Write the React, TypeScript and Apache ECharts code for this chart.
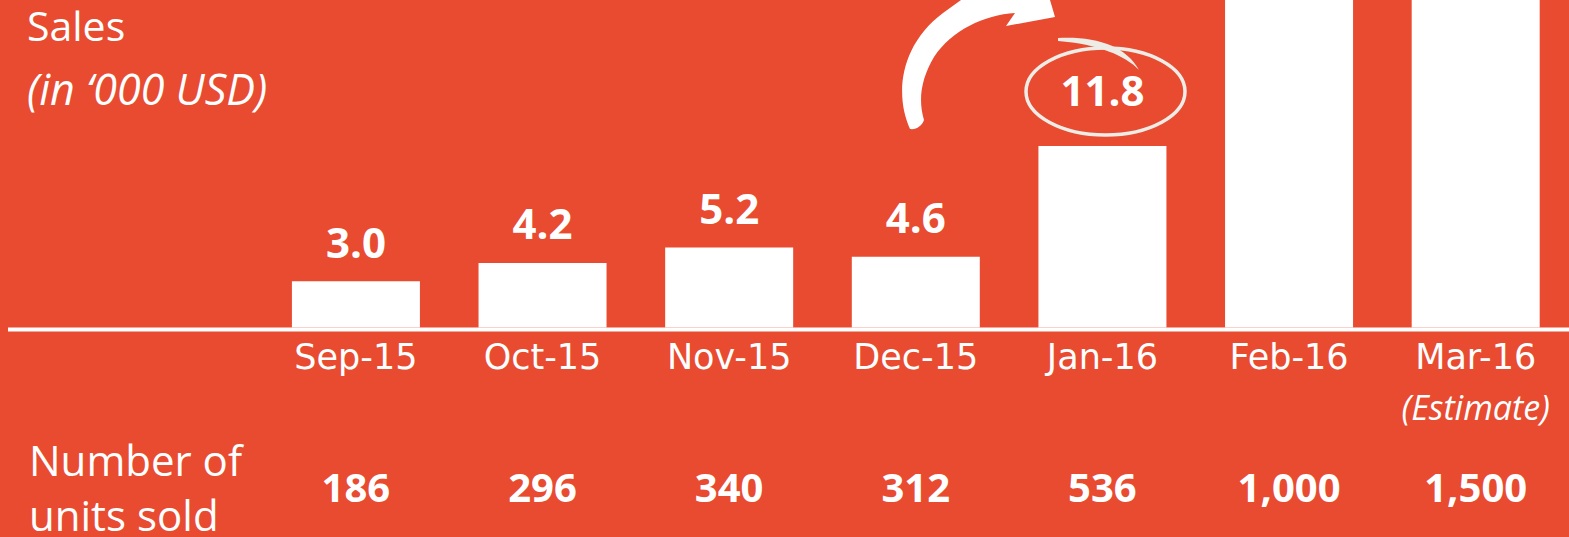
import React, { useEffect, useRef } from "react";
import * as echarts from "echarts";

const months = ["Sep-15", "Oct-15", "Nov-15", "Dec-15", "Jan-16", "Feb-16", "Mar-16"];
const sales = [3.0, 4.2, 5.2, 4.6, 11.8, 23.5, 35.0];
const salesLabels = ["3.0", "4.2", "5.2", "4.6", "11.8", "", ""];
const units = ["186", "296", "340", "312", "536", "1,000", "1,500"];
const estimateNote = "(Estimate)";
const estimateMonth = "Mar-16";
const highlightIndex = 4;

const BG = "#E84B30";
const ARROW_D =
  "M 910 129 C 895 96 899 46 943 13 L 961 0 L 1050 0 L 1055 17 L 1006 26 L 1015 13 C 984 15 952 30 934 57 C 921 79 918 100 924 120 C 922 126 916 130 910 129 Z";
const SWOOSH_D = "M 1058 38 C 1096 36 1126 46 1139 70 C 1126 56 1098 44 1058 41 Z";

export default function App() {
  const ref = useRef<HTMLDivElement>(null);
  useEffect(() => {
    if (!ref.current) return;
    echarts.graphic.registerShape("curvedArrow", echarts.graphic.extendPath(ARROW_D, {}) as any);
    echarts.graphic.registerShape("swoosh", echarts.graphic.extendPath(SWOOSH_D, {}) as any);
    const chart = echarts.init(ref.current, undefined, { renderer: "svg" });
    const barData = sales.map((v, i) => ({
      value: v,
      label: i === highlightIndex ? { distance: 36 } : undefined,
    }));
    chart.setOption({
      animation: false,
      backgroundColor: BG,
      grid: { left: 262.6, top: 0, width: 1307.8, height: 327.5, containLabel: false },
      xAxis: [
        {
          type: "category",
          data: months,
          axisLine: { show: false },
          axisTick: { show: false },
          axisLabel: {
            interval: 0,
            margin: 11.5,
            color: "#fff",
            formatter: (v: string) =>
              v === estimateMonth ? `{a|${v}}\n{b|${estimateNote}}` : `{a|${v}}`,
            rich: {
              a: { fontFamily: "DejaVu Sans", fontSize: 35, lineHeight: 35, color: "#fff" },
              b: {
                fontFamily: "Open Sans",
                fontStyle: "italic",
                fontSize: 34,
                lineHeight: 66,
                color: "#fff",
              },
            },
          },
        },
        {
          type: "category",
          data: units,
          position: "bottom",
          offset: 130,
          axisLine: { show: false },
          axisTick: { show: false },
          axisLabel: {
            interval: 0,
            margin: 8.5,
            color: "#fff",
            fontFamily: "Open Sans",
            fontWeight: "bold",
            fontSize: 40,
          },
        },
      ],
      yAxis: { type: "value", min: 0, max: 21.3, show: false },
      series: [
        {
          type: "bar",
          data: barData,
          barWidth: 128,
          clip: true,
          itemStyle: { color: "#fff" },
          label: {
            show: true,
            position: "top",
            distance: 19,
            color: "#fff",
            fontFamily: "Open Sans",
            fontWeight: "bold",
            fontSize: 42,
            formatter: (p: any) => salesLabels[p.dataIndex],
          },
        },
      ],
      graphic: [
        { type: "rect", z: 100, shape: { x: 8, y: 327.5, width: 1561, height: 4 }, style: { fill: "#fff" } },
        {
          type: "text", x: 27, y: 25,
          style: { text: "Sales", fill: "#fff", fontFamily: "Open Sans", fontSize: 41, lineHeight: 40, verticalAlign: "middle" },
        },
        {
          type: "text", x: 27, y: 88,
          style: { text: "(in \u2018000 USD)", fill: "#fff", fontFamily: "Open Sans", fontStyle: "italic", fontSize: 43, lineHeight: 43, verticalAlign: "middle" },
        },
        {
          type: "text", x: 29, y: 459,
          style: { text: "Number of", fill: "#fff", fontFamily: "Open Sans", fontSize: 42, lineHeight: 42, verticalAlign: "middle" },
        },
        {
          type: "text", x: 29, y: 514,
          style: { text: "units sold", fill: "#fff", fontFamily: "Open Sans", fontSize: 42, lineHeight: 40, verticalAlign: "middle" },
        },
        { type: "curvedArrow", x: 0, y: 0, z: 100, style: { fill: "#fff" } },
        {
          type: "ellipse", z: 100,
          shape: { cx: 1105.5, cy: 91.5, rx: 79.5, ry: 43.5 },
          style: { fill: "none", stroke: "#EEECE6", lineWidth: 3.5 },
        },
        { type: "swoosh", x: 0, y: 0, z: 100, style: { fill: "#EEECE6" } },
      ],
    });
    return () => chart.dispose();
  }, []);
  return (
    <div
      ref={ref}
      style={{ position: "absolute", left: 0, top: 0, width: 1569, height: 537 }}
    />
  );
}
